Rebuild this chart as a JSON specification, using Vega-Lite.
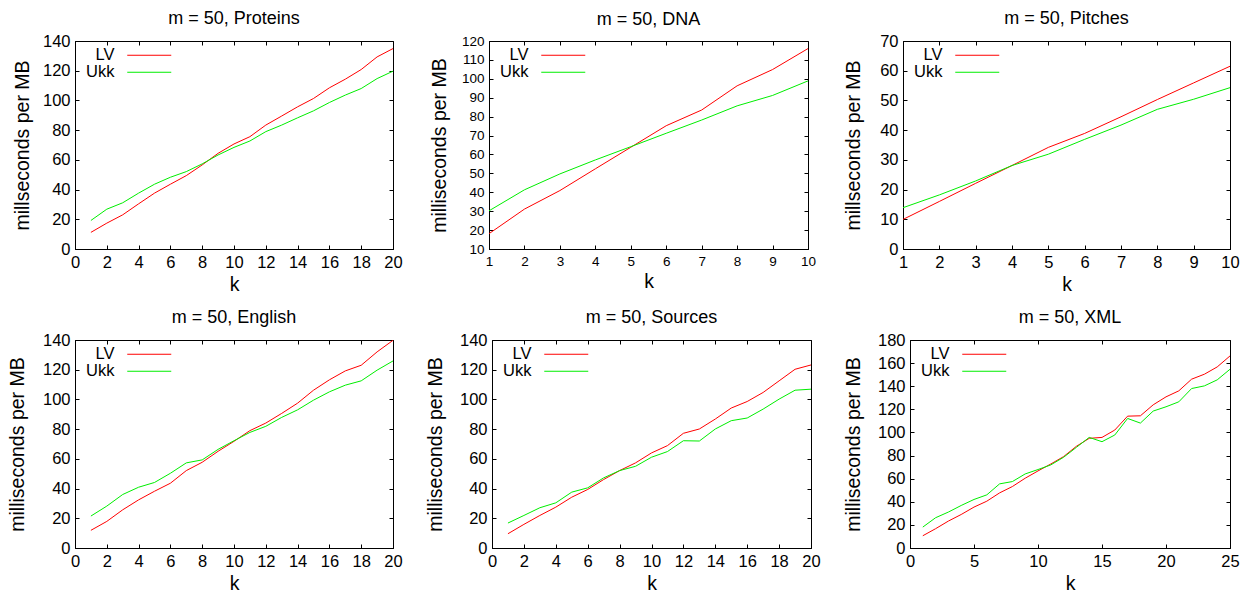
{
  "$schema": "https://vega.github.io/schema/vega-lite/v6.json",
  "padding": {"left": 6, "top": 9, "right": 10, "bottom": 0},
  "background": "white",
  "datasets": {
    "proteins": [
      {"k":1,"s":"LV","v":11.2},{"k":2,"s":"LV","v":17.4},{"k":3,"s":"LV","v":23},{"k":4,"s":"LV","v":30.4},{"k":5,"s":"LV","v":37.6},{"k":6,"s":"LV","v":43.6},{"k":7,"s":"LV","v":49.4},{"k":8,"s":"LV","v":56.6},{"k":9,"s":"LV","v":64.4},{"k":10,"s":"LV","v":70.7},{"k":11,"s":"LV","v":75.6},{"k":12,"s":"LV","v":83.4},{"k":13,"s":"LV","v":89.5},{"k":14,"s":"LV","v":95.7},{"k":15,"s":"LV","v":101.3},{"k":16,"s":"LV","v":108.5},{"k":17,"s":"LV","v":114.3},{"k":18,"s":"LV","v":120.8},{"k":19,"s":"LV","v":129.3},{"k":20,"s":"LV","v":134.9},
      {"k":1,"s":"Ukk","v":19.2},{"k":2,"s":"Ukk","v":26.8},{"k":3,"s":"Ukk","v":31.1},{"k":4,"s":"Ukk","v":37.6},{"k":5,"s":"Ukk","v":43.6},{"k":6,"s":"Ukk","v":48.3},{"k":7,"s":"Ukk","v":52.1},{"k":8,"s":"Ukk","v":57.3},{"k":9,"s":"Ukk","v":63.3},{"k":10,"s":"Ukk","v":68.4},{"k":11,"s":"Ukk","v":72.7},{"k":12,"s":"Ukk","v":79},{"k":13,"s":"Ukk","v":83.4},{"k":14,"s":"Ukk","v":88.3},{"k":15,"s":"Ukk","v":93},{"k":16,"s":"Ukk","v":98.6},{"k":17,"s":"Ukk","v":103.6},{"k":18,"s":"Ukk","v":108},{"k":19,"s":"Ukk","v":114.7},{"k":20,"s":"Ukk","v":119.7}
    ],
    "dna": [
      {"k":1,"s":"LV","v":18.1},{"k":2,"s":"LV","v":31.1},{"k":3,"s":"LV","v":40.9},{"k":4,"s":"LV","v":52.4},{"k":5,"s":"LV","v":63.8},{"k":6,"s":"LV","v":75.2},{"k":7,"s":"LV","v":83.5},{"k":8,"s":"LV","v":96.3},{"k":9,"s":"LV","v":104.9},{"k":10,"s":"LV","v":116},
      {"k":1,"s":"Ukk","v":30.2},{"k":2,"s":"Ukk","v":41.3},{"k":3,"s":"Ukk","v":49.7},{"k":4,"s":"Ukk","v":57.1},{"k":5,"s":"Ukk","v":64.1},{"k":6,"s":"Ukk","v":71.2},{"k":7,"s":"Ukk","v":78.2},{"k":8,"s":"Ukk","v":85.7},{"k":9,"s":"Ukk","v":91.2},{"k":10,"s":"Ukk","v":98.9}
    ],
    "pitches": [
      {"k":1,"s":"LV","v":9.95},{"k":2,"s":"LV","v":16},{"k":3,"s":"LV","v":22.1},{"k":4,"s":"LV","v":28.1},{"k":5,"s":"LV","v":34.2},{"k":6,"s":"LV","v":38.9},{"k":7,"s":"LV","v":44.5},{"k":8,"s":"LV","v":50.3},{"k":9,"s":"LV","v":55.9},{"k":10,"s":"LV","v":61.5},
      {"k":1,"s":"Ukk","v":13.9},{"k":2,"s":"Ukk","v":18.2},{"k":3,"s":"Ukk","v":22.9},{"k":4,"s":"Ukk","v":28.1},{"k":5,"s":"Ukk","v":31.9},{"k":6,"s":"Ukk","v":36.9},{"k":7,"s":"Ukk","v":41.7},{"k":8,"s":"Ukk","v":47},{"k":9,"s":"Ukk","v":50.4},{"k":10,"s":"Ukk","v":54.3}
    ],
    "english": [
      {"k":1,"s":"LV","v":11.9},{"k":2,"s":"LV","v":17.9},{"k":3,"s":"LV","v":25.7},{"k":4,"s":"LV","v":32.4},{"k":5,"s":"LV","v":38.2},{"k":6,"s":"LV","v":43.6},{"k":7,"s":"LV","v":52.1},{"k":8,"s":"LV","v":57.7},{"k":9,"s":"LV","v":65.1},{"k":10,"s":"LV","v":71.8},{"k":11,"s":"LV","v":79},{"k":12,"s":"LV","v":84.1},{"k":13,"s":"LV","v":90.6},{"k":14,"s":"LV","v":97.5},{"k":15,"s":"LV","v":106.2},{"k":16,"s":"LV","v":113.2},{"k":17,"s":"LV","v":119.2},{"k":18,"s":"LV","v":123},{"k":19,"s":"LV","v":132},{"k":20,"s":"LV","v":139.8},
      {"k":1,"s":"Ukk","v":21.5},{"k":2,"s":"Ukk","v":28.2},{"k":3,"s":"Ukk","v":36},{"k":4,"s":"Ukk","v":40.9},{"k":5,"s":"Ukk","v":44.1},{"k":6,"s":"Ukk","v":50.3},{"k":7,"s":"Ukk","v":57.3},{"k":8,"s":"Ukk","v":59.3},{"k":9,"s":"Ukk","v":66.4},{"k":10,"s":"Ukk","v":72.2},{"k":11,"s":"Ukk","v":77.8},{"k":12,"s":"Ukk","v":81.9},{"k":13,"s":"Ukk","v":87.9},{"k":14,"s":"Ukk","v":93},{"k":15,"s":"Ukk","v":99.5},{"k":16,"s":"Ukk","v":105.1},{"k":17,"s":"Ukk","v":109.6},{"k":18,"s":"Ukk","v":112.5},{"k":19,"s":"Ukk","v":119.7},{"k":20,"s":"Ukk","v":125.9}
    ],
    "sources": [
      {"k":1,"s":"LV","v":9.6},{"k":2,"s":"LV","v":15.9},{"k":3,"s":"LV","v":21.9},{"k":4,"s":"LV","v":27.5},{"k":5,"s":"LV","v":34.2},{"k":6,"s":"LV","v":39.4},{"k":7,"s":"LV","v":46.1},{"k":8,"s":"LV","v":52.1},{"k":9,"s":"LV","v":57.3},{"k":10,"s":"LV","v":64},{"k":11,"s":"LV","v":68.9},{"k":12,"s":"LV","v":77.2},{"k":13,"s":"LV","v":80.1},{"k":14,"s":"LV","v":86.8},{"k":15,"s":"LV","v":94.2},{"k":16,"s":"LV","v":98.6},{"k":17,"s":"LV","v":104.7},{"k":18,"s":"LV","v":112.5},{"k":19,"s":"LV","v":120.3},{"k":20,"s":"LV","v":123.2},
      {"k":1,"s":"Ukk","v":16.8},{"k":2,"s":"Ukk","v":21.9},{"k":3,"s":"Ukk","v":27.1},{"k":4,"s":"Ukk","v":30.4},{"k":5,"s":"Ukk","v":37.6},{"k":6,"s":"Ukk","v":40.5},{"k":7,"s":"Ukk","v":47.2},{"k":8,"s":"Ukk","v":52.1},{"k":9,"s":"Ukk","v":55},{"k":10,"s":"Ukk","v":61.1},{"k":11,"s":"Ukk","v":64.9},{"k":12,"s":"Ukk","v":72.2},{"k":13,"s":"Ukk","v":72},{"k":14,"s":"Ukk","v":80.1},{"k":15,"s":"Ukk","v":85.7},{"k":16,"s":"Ukk","v":87.5},{"k":17,"s":"Ukk","v":93.5},{"k":18,"s":"Ukk","v":100.2},{"k":19,"s":"Ukk","v":106.2},{"k":20,"s":"Ukk","v":106.9}
    ],
    "xml": [
      {"k":1,"s":"LV","v":10.6},{"k":2,"s":"LV","v":16.7},{"k":3,"s":"LV","v":23.3},{"k":4,"s":"LV","v":29},{"k":5,"s":"LV","v":35.4},{"k":6,"s":"LV","v":40.5},{"k":7,"s":"LV","v":47.7},{"k":8,"s":"LV","v":53.2},{"k":9,"s":"LV","v":60.4},{"k":10,"s":"LV","v":66.7},{"k":11,"s":"LV","v":72.7},{"k":12,"s":"LV","v":79.1},{"k":13,"s":"LV","v":88},{"k":14,"s":"LV","v":94.9},{"k":15,"s":"LV","v":95.7},{"k":16,"s":"LV","v":102.1},{"k":17,"s":"LV","v":114.1},{"k":18,"s":"LV","v":114.4},{"k":19,"s":"LV","v":123.9},{"k":20,"s":"LV","v":130.8},{"k":21,"s":"LV","v":136},{"k":22,"s":"LV","v":146.1},{"k":23,"s":"LV","v":150.4},{"k":24,"s":"LV","v":156.7},{"k":25,"s":"LV","v":166.2},
      {"k":1,"s":"Ukk","v":18.1},{"k":2,"s":"Ukk","v":26.2},{"k":3,"s":"Ukk","v":31.1},{"k":4,"s":"Ukk","v":36.8},{"k":5,"s":"Ukk","v":42},{"k":6,"s":"Ukk","v":46},{"k":7,"s":"Ukk","v":55.5},{"k":8,"s":"Ukk","v":57.5},{"k":9,"s":"Ukk","v":64.1},{"k":10,"s":"Ukk","v":67.9},{"k":11,"s":"Ukk","v":71.9},{"k":12,"s":"Ukk","v":78.5},{"k":13,"s":"Ukk","v":87.1},{"k":14,"s":"Ukk","v":95.7},{"k":15,"s":"Ukk","v":92},{"k":16,"s":"Ukk","v":97.8},{"k":17,"s":"Ukk","v":112.1},{"k":18,"s":"Ukk","v":108.1},{"k":19,"s":"Ukk","v":118.5},{"k":20,"s":"Ukk","v":122.2},{"k":21,"s":"Ukk","v":126.5},{"k":22,"s":"Ukk","v":138},{"k":23,"s":"Ukk","v":140.3},{"k":24,"s":"Ukk","v":145.5},{"k":25,"s":"Ukk","v":154.7}
    ]
  },
  "vconcat": [
    {
      "hconcat": [
        {
          "title": "m = 50, Proteins",
          "width": 318, "height": 208,
          "data": {"name": "proteins"},
          "layer": [
            {
              "mark": {"type": "line", "strokeWidth": 1},
              "encoding": {
                "x": {"field": "k", "type": "quantitative", "scale": {"domain": [0, 20], "nice": false}, "axis": {"title": "k", "values": [0,2,4,6,8,10,12,14,16,18,20]}},
                "y": {"field": "v", "type": "quantitative", "scale": {"domain": [0, 140], "nice": false}, "axis": {"title": "millseconds per MB", "titleX": -53, "titleY": 104, "values": [0,20,40,60,80,100,120,140]}},
                "color": {"field": "s", "type": "nominal", "scale": {"domain": ["LV", "Ukk"], "range": ["#ff0000", "#00ee00"]}}
              }
            },
            {
              "mark": {"type": "line", "opacity": 0},
              "encoding": {
                "x": {"field": "k", "type": "quantitative", "scale": {"domain": [0, 20], "nice": false}, "axis": {"orient": "top", "labels": false, "domain": false, "title": null, "values": [0,2,4,6,8,10,12,14,16,18,20]}},
                "y": {"field": "v", "type": "quantitative", "scale": {"domain": [0, 140], "nice": false}, "axis": {"orient": "right", "labels": false, "domain": false, "title": null, "values": [0,20,40,60,80,100,120,140]}}
              }
            }
          ],
          "resolve": {"axis": {"x": "independent", "y": "independent"}}
        },
        {
          "title": "m = 50, DNA",
          "width": 319, "height": 208,
          "data": {"name": "dna"},
          "layer": [
            {
              "mark": {"type": "line", "strokeWidth": 1},
              "encoding": {
                "x": {"field": "k", "type": "quantitative", "scale": {"domain": [1, 10], "nice": false}, "axis": {"title": "k", "values": [1,2,3,4,5,6,7,8,9,10], "labelFontSize": 13.5}},
                "y": {"field": "v", "type": "quantitative", "scale": {"domain": [10, 120], "nice": false}, "axis": {"title": "milliseconds per MB", "titleX": -50, "titleY": 104, "values": [10,20,30,40,50,60,70,80,90,100,110,120], "labelFontSize": 13.5}},
                "color": {"field": "s", "type": "nominal", "scale": {"domain": ["LV", "Ukk"], "range": ["#ff0000", "#00ee00"]}}
              }
            },
            {
              "mark": {"type": "line", "opacity": 0},
              "encoding": {
                "x": {"field": "k", "type": "quantitative", "scale": {"domain": [1, 10], "nice": false}, "axis": {"orient": "top", "labels": false, "domain": false, "title": null, "values": [1,2,3,4,5,6,7,8,9,10]}},
                "y": {"field": "v", "type": "quantitative", "scale": {"domain": [10, 120], "nice": false}, "axis": {"orient": "right", "labels": false, "domain": false, "title": null, "values": [10,20,30,40,50,60,70,80,90,100,110,120]}}
              }
            }
          ],
          "resolve": {"axis": {"x": "independent", "y": "independent"}}
        },
        {
          "title": "m = 50, Pitches",
          "width": 327, "height": 208,
          "data": {"name": "pitches"},
          "layer": [
            {
              "mark": {"type": "line", "strokeWidth": 1},
              "encoding": {
                "x": {"field": "k", "type": "quantitative", "scale": {"domain": [1, 10], "nice": false}, "axis": {"title": "k", "values": [1,2,3,4,5,6,7,8,9,10]}},
                "y": {"field": "v", "type": "quantitative", "scale": {"domain": [0, 70], "nice": false}, "axis": {"title": "millseconds per MB", "titleX": -49.5, "titleY": 104, "values": [0,10,20,30,40,50,60,70]}},
                "color": {"field": "s", "type": "nominal", "scale": {"domain": ["LV", "Ukk"], "range": ["#ff0000", "#00ee00"]}}
              }
            },
            {
              "mark": {"type": "line", "opacity": 0},
              "encoding": {
                "x": {"field": "k", "type": "quantitative", "scale": {"domain": [1, 10], "nice": false}, "axis": {"orient": "top", "labels": false, "domain": false, "title": null, "values": [1,2,3,4,5,6,7,8,9,10]}},
                "y": {"field": "v", "type": "quantitative", "scale": {"domain": [0, 70], "nice": false}, "axis": {"orient": "right", "labels": false, "domain": false, "title": null, "values": [0,10,20,30,40,50,60,70]}}
              }
            }
          ],
          "resolve": {"axis": {"x": "independent", "y": "independent"}}
        }
      ],
      "spacing": 25,
      "resolve": {"legend": {"color": "independent"}}
    },
    {
      "hconcat": [
        {
          "title": "m = 50, English",
          "width": 318, "height": 208,
          "data": {"name": "english"},
          "layer": [
            {
              "mark": {"type": "line", "strokeWidth": 1},
              "encoding": {
                "x": {"field": "k", "type": "quantitative", "scale": {"domain": [0, 20], "nice": false}, "axis": {"title": "k", "values": [0,2,4,6,8,10,12,14,16,18,20]}},
                "y": {"field": "v", "type": "quantitative", "scale": {"domain": [0, 140], "nice": false}, "axis": {"title": "milliseconds per MB", "titleX": -58, "titleY": 104, "values": [0,20,40,60,80,100,120,140]}},
                "color": {"field": "s", "type": "nominal", "scale": {"domain": ["LV", "Ukk"], "range": ["#ff0000", "#00ee00"]}}
              }
            },
            {
              "mark": {"type": "line", "opacity": 0},
              "encoding": {
                "x": {"field": "k", "type": "quantitative", "scale": {"domain": [0, 20], "nice": false}, "axis": {"orient": "top", "labels": false, "domain": false, "title": null, "values": [0,2,4,6,8,10,12,14,16,18,20]}},
                "y": {"field": "v", "type": "quantitative", "scale": {"domain": [0, 140], "nice": false}, "axis": {"orient": "right", "labels": false, "domain": false, "title": null, "values": [0,20,40,60,80,100,120,140]}}
              }
            }
          ],
          "resolve": {"axis": {"x": "independent", "y": "independent"}}
        },
        {
          "title": "m = 50, Sources",
          "width": 319, "height": 208,
          "data": {"name": "sources"},
          "layer": [
            {
              "mark": {"type": "line", "strokeWidth": 1},
              "encoding": {
                "x": {"field": "k", "type": "quantitative", "scale": {"domain": [0, 20], "nice": false}, "axis": {"title": "k", "values": [0,2,4,6,8,10,12,14,16,18,20]}},
                "y": {"field": "v", "type": "quantitative", "scale": {"domain": [0, 140], "nice": false}, "axis": {"title": "milliseconds per MB", "titleX": -57, "titleY": 104, "values": [0,20,40,60,80,100,120,140]}},
                "color": {"field": "s", "type": "nominal", "scale": {"domain": ["LV", "Ukk"], "range": ["#ff0000", "#00ee00"]}}
              }
            },
            {
              "mark": {"type": "line", "opacity": 0},
              "encoding": {
                "x": {"field": "k", "type": "quantitative", "scale": {"domain": [0, 20], "nice": false}, "axis": {"orient": "top", "labels": false, "domain": false, "title": null, "values": [0,2,4,6,8,10,12,14,16,18,20]}},
                "y": {"field": "v", "type": "quantitative", "scale": {"domain": [0, 140], "nice": false}, "axis": {"orient": "right", "labels": false, "domain": false, "title": null, "values": [0,20,40,60,80,100,120,140]}}
              }
            }
          ],
          "resolve": {"axis": {"x": "independent", "y": "independent"}}
        },
        {
          "title": "m = 50, XML",
          "width": 320, "height": 208,
          "data": {"name": "xml"},
          "layer": [
            {
              "mark": {"type": "line", "strokeWidth": 1},
              "encoding": {
                "x": {"field": "k", "type": "quantitative", "scale": {"domain": [0, 25], "nice": false}, "axis": {"title": "k", "values": [0,5,10,15,20,25]}},
                "y": {"field": "v", "type": "quantitative", "scale": {"domain": [0, 180], "nice": false}, "axis": {"title": "milliseconds per MB", "titleX": -56.5, "titleY": 104, "values": [0,20,40,60,80,100,120,140,160,180]}},
                "color": {"field": "s", "type": "nominal", "scale": {"domain": ["LV", "Ukk"], "range": ["#ff0000", "#00ee00"]}}
              }
            },
            {
              "mark": {"type": "line", "opacity": 0},
              "encoding": {
                "x": {"field": "k", "type": "quantitative", "scale": {"domain": [0, 25], "nice": false}, "axis": {"orient": "top", "labels": false, "domain": false, "title": null, "values": [0,5,10,15,20,25]}},
                "y": {"field": "v", "type": "quantitative", "scale": {"domain": [0, 180], "nice": false}, "axis": {"orient": "right", "labels": false, "domain": false, "title": null, "values": [0,20,40,60,80,100,120,140,160,180]}}
              }
            }
          ],
          "resolve": {"axis": {"x": "independent", "y": "independent"}}
        }
      ],
      "spacing": 21,
      "resolve": {"legend": {"color": "independent"}}
    }
  ],
  "spacing": 13,
  "resolve": {"legend": {"color": "independent"}},
  "config": {
    "font": "Liberation Sans",
    "view": {"stroke": "black", "strokeWidth": 1},
    "title": {"fontSize": 18, "fontWeight": "normal", "color": "black", "offset": 5},
    "axis": {
      "grid": false,
      "domainColor": "black",
      "tickColor": "black",
      "tickSize": -4,
      "labelPadding": 9,
      "labelFontSize": 16.5,
      "labelColor": "black",
      "titleFontSize": 19.5,
      "titleFontWeight": "normal",
      "titleColor": "black",
      "titlePadding": 5,
      "labelFlush": false,
      "labelOverlap": false
    },
    "axisY": {"titleBaseline": "middle"},
    "legend": {
      "orient": "top-left",
      "title": null,
      "symbolType": "M-4,0H4",
      "symbolSize": 121,
      "symbolStrokeWidth": 1,
      "symbolOffset": 60,
      "labelFontSize": 16.5,
      "labelColor": "black",
      "labelAlign": "right",
      "labelOffset": -43,
      "rowPadding": 0,
      "offset": 6,
      "padding": 0
    }
  }
}
